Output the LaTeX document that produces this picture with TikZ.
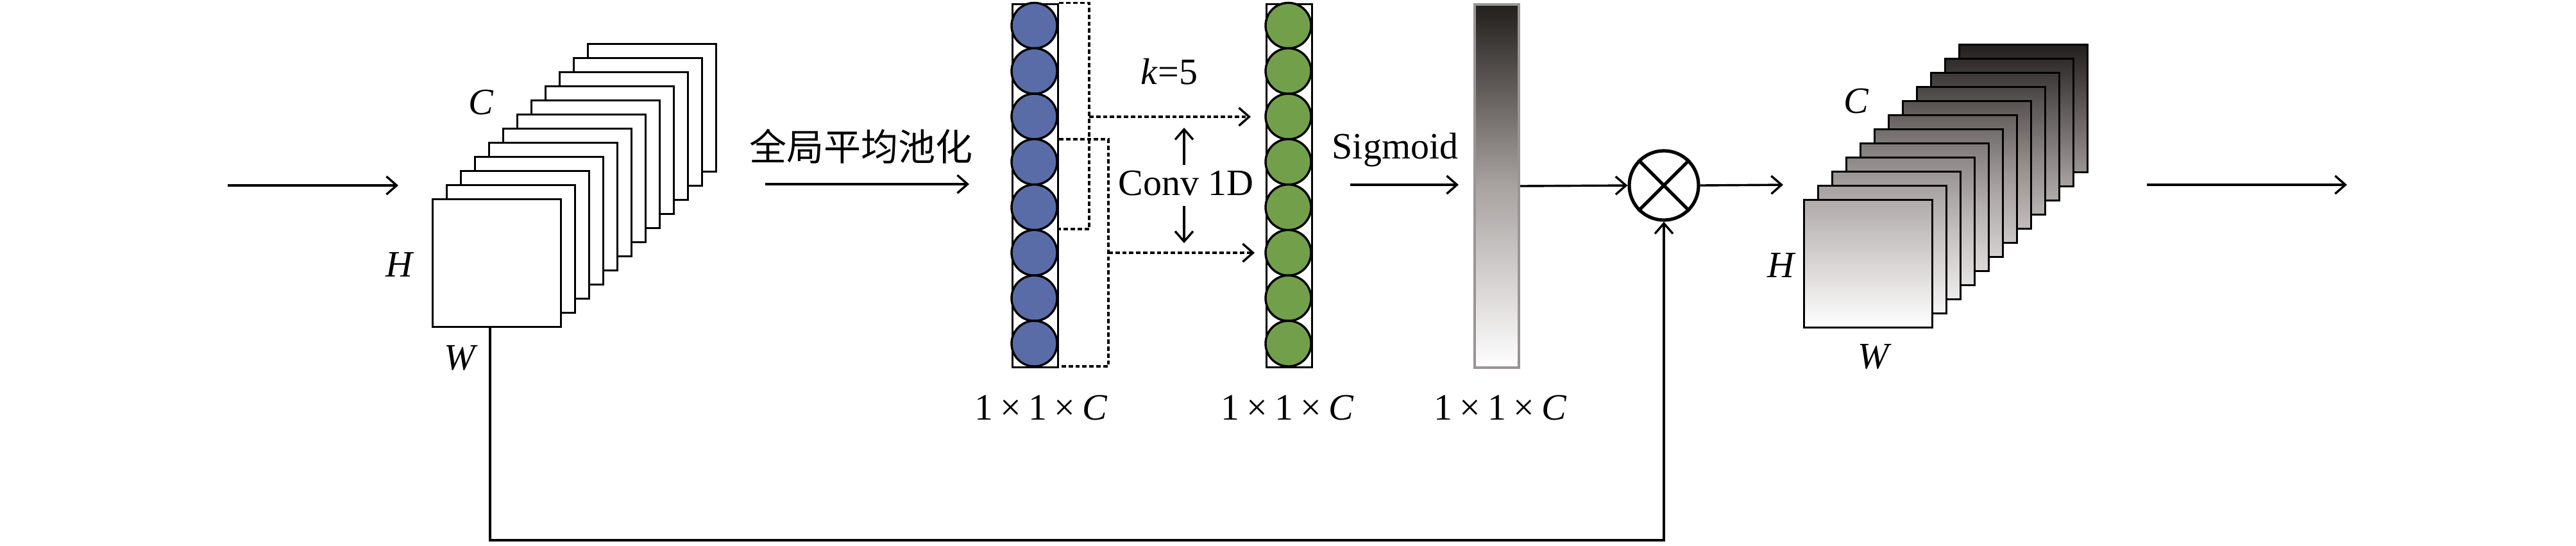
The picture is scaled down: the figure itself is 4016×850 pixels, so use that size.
\documentclass[tikz,border=0pt]{standalone}
\usepackage{fontspec}
\setmainfont{Liberation Serif}
\newfontfamily\cjk{Noto Sans CJK SC}
\usetikzlibrary{arrows.meta,calc}
\definecolor{cblue}{HTML}{5A6CA8}
\definecolor{cgreen}{HTML}{72A04A}
\definecolor{gdark}{HTML}{231F1C}
\definecolor{gmid}{HTML}{A8A2A0}
\definecolor{gborder}{HTML}{9A9594}
\newcommand{\gradcol}[2]{%
  \pgfmathsetmacro\gct{#2}%
  \pgfmathtruncatemacro\gcf{\gct<0.5 ? 1 : 0}%
  \ifnum\gcf=1
    \pgfmathsetmacro\gcp{max(0,min(100,\gct*200))}%
    \colorlet{#1}{gmid!\gcp!gdark}%
  \else
    \pgfmathsetmacro\gcp{max(0,min(100,(\gct-0.5)*200))}%
    \colorlet{#1}{white!\gcp!gmid}%
  \fi}
\newcommand{\dimC}{1\hspace{0.19em}×\hspace{0.19em}1\hspace{0.19em}×\hspace{0.19em}\textit{C}}
\begin{document}
\begin{tikzpicture}[x=0.25pt,y=-0.25pt,
  every node/.style={font=\fontsize{14.5}{17}\selectfont, inner sep=0pt},
  conn/.style={line width=0.85pt, black},
  arr/.style={conn, -{Straight Barb[length=4pt,width=7pt]}},
  dconn/.style={conn, dash pattern=on 1.7pt off 1pt},
  darr/.style={arr, dash pattern=on 1.7pt off 1pt},
  fmap/.style={draw, line width=0.85pt, minimum width=50pt, minimum height=49.75pt, anchor=north west, inner sep=0pt},
  colbox/.style={draw, line width=0.85pt, fill=white, minimum width=17.75pt, minimum height=141.6pt, anchor=north west},
  ball/.style={circle, draw, line width=0.85pt, minimum size=17.75pt},
  muls/.style={circle, draw, line width=1.3pt, fill=white, minimum size=27pt},
]
\useasboundingbox (0,0) rectangle (4016,850);

% input feature map stack
\foreach \i in {11,10,...,0}{
  \node[fmap, fill=white] (in\i) at ({673+22*\i},{309-22*\i}) {};
}
\node (inC) at (750,160) {\textit{C}};
\node (inH) at (624,412) {\textit{H}};
\node (inW) at (719,558) {\textit{W}};

% input arrow
\coordinate (inA) at (355,289);
\coordinate (inB) at (621,289);
\draw[arr] (inA) -- (inB);

% GAP
\node (gap) at (1342,228) {\cjk 全局平均池化};
\coordinate (gapA) at (1193,287);
\coordinate (gapB) at (1511,287);
\draw[arr] (gapA) -- (gapB);

% blue column
\node[colbox] (bcol) at (1577,4.5) {};
\foreach \j in {1,...,8}{
  \node[ball, fill=cblue] (b\j) at (1612.5,{4.5+35.4*(2*\j-1)}) {};
}
\node (lab1) at (1623,636) {\dimC};

% brackets (k = 5)
\coordinate (br1t) at (1698,4.5);
\coordinate (br1b) at (1698,357);
\coordinate (br2t) at (1728,217);
\coordinate (br2b) at (1728,571);
\draw[dconn] (bcol.north east) -- (br1t) -- (br1b) -- (br1b -| bcol.east);
\draw[dconn] (br2t -| bcol.east) -- (br2t) -- (br2b) -- (br2b -| bcol.east);

% green column
\node[colbox] (gcol) at (1973,4.5) {};
\foreach \j in {1,...,8}{
  \node[ball, fill=cgreen] (g\j) at (2008.5,{4.5+35.4*(2*\j-1)}) {};
}
\node (lab2) at (2007,636) {\dimC};

\coordinate (d1s) at (1698,182);
\coordinate (d1e) at (1950,182);
\coordinate (d2s) at (1728,394);
\coordinate (d2e) at (1956,394);
\draw[darr] (d1s) -- (d1e);
\draw[darr] (d2s) -- (d2e);

\node (k5) at (1823,112) {\textit{k}=5};
\node (conv) at (1849,286) {Conv 1D};
\coordinate (upS) at (1846,257);
\coordinate (upE) at (1846,199);
\coordinate (dnS) at (1846,321);
\coordinate (dnE) at (1846,379);
\draw[arr] (upS) -- (upE);
\draw[arr] (dnS) -- (dnE);

% sigmoid
\node (sig) at (2175,234) {Sigmoid};
\coordinate (sigA) at (2105,288);
\coordinate (sigB) at (2274,288);
\draw[arr] (sigA) -- (sigB);

\node[draw=gborder, line width=1pt, top color=gdark, bottom color=white, middle color=gmid,
      minimum width=17.25pt, minimum height=141.5pt, anchor=north west] (bar) at (2297,5) {};
\node (lab3) at (2339,636) {\dimC};

% multiplication
\node[muls] (mul) at (2594,289) {};
\draw[line width=1.3pt] (mul.north west) -- (mul.south east);
\draw[line width=1.3pt] (mul.north east) -- (mul.south west);
\draw[arr] (bar.east) -- (mul.west);

% output stack
\foreach \i in {11,10,...,0}{
  \pgfmathsetmacro\ttop{(310-22*\i-68)/440}
  \pgfmathsetmacro\tmid{(409-22*\i-68)/440}
  \pgfmathsetmacro\tbot{(508-22*\i-68)/440}
  \gradcol{ctop}{\ttop}\gradcol{cmid}{\tmid}\gradcol{cbot}{\tbot}
  \node[fmap, top color=ctop, bottom color=cbot, middle color=cmid] (out\i) at ({2811+22*\i},{310-22*\i}) {};
}
\node (outC) at (2894,158) {\textit{C}};
\node (outH) at (2778,413) {\textit{H}};
\node (outW) at (2923,556) {\textit{W}};

\coordinate (mo) at (2780,288);
\draw[arr] (mul.east) -- (mo);
\coordinate (oA) at (3347,288);
\coordinate (oB) at (3659,288);
\draw[arr] (oA) -- (oB);

% skip connection
\coordinate (sk1) at (764,842);
\coordinate (sk2) at (2594,842);
\draw[arr] (in0.south -| sk1) -- (sk1) -- (sk2) -- (mul.south);
\end{tikzpicture}
\end{document}
